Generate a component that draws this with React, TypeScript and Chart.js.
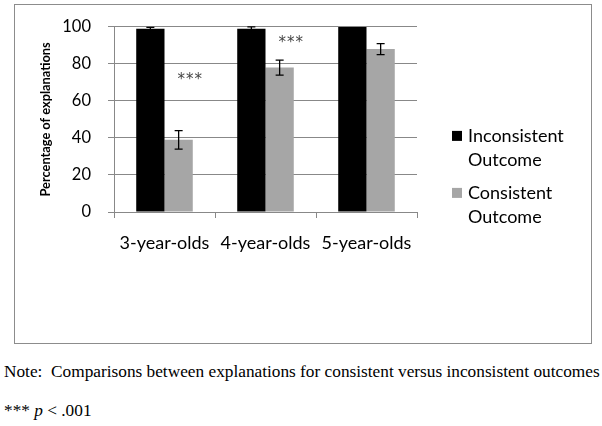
import React, { useEffect, useRef } from "react";
import { Chart, registerables } from "chart.js";

Chart.register(...registerables);

const categories = ["3-year-olds", "4-year-olds", "5-year-olds"];
const seriesLabels = ["Inconsistent Outcome", "Consistent Outcome"];
const inconsistentValues = [99, 99, 100];
const consistentValues = [39, 78, 88];
const inconsistentErrors = [0.7, 1, 0];
const consistentErrors = [5, 4, 3];
const sigMarks = ["***", "***", ""];
const sigLevels = [73, 93, 0];
const yTickValues = [0, 20, 40, 60, 80, 100];

const FONT = "Lato, 'Open Sans', sans-serif";

const errorBarPlugin = {
  id: "errorBars",
  afterDatasetsDraw(chart: any) {
    const ctx = chart.ctx;
    const y = chart.scales.y;
    [inconsistentErrors, consistentErrors].forEach((errs, di) => {
      const meta = chart.getDatasetMeta(di);
      const vals = chart.data.datasets[di].data as number[];
      meta.data.forEach((bar: any, i: number) => {
        const e = errs[i];
        if (!e) return;
        const v = vals[i];
        const top = y.getPixelForValue(v + e);
        const bot = y.getPixelForValue(v - e);
        ctx.save();
        ctx.strokeStyle = "#000";
        ctx.lineWidth = 1.3;
        ctx.beginPath();
        ctx.moveTo(bar.x, top);
        ctx.lineTo(bar.x, bot);
        ctx.moveTo(bar.x - 4, top);
        ctx.lineTo(bar.x + 4, top);
        ctx.moveTo(bar.x - 4, bot);
        ctx.lineTo(bar.x + 4, bot);
        ctx.stroke();
        ctx.restore();
      });
    });
    // significance marks
    const meta = chart.getDatasetMeta(1);
    ctx.save();
    ctx.fillStyle = "#444";
    ctx.font = `15px 'DejaVu Sans', sans-serif`;
    ctx.textAlign = "center";
    ctx.textBaseline = "middle";
    meta.data.forEach((bar: any, i: number) => {
      const mark = sigMarks[i];
      if (!mark) return;
      const cx = bar.x + 11;
      const cy = y.getPixelForValue(sigLevels[i]) + 3;
      const n = mark.length;
      for (let k = 0; k < n; k++) {
        ctx.fillText(mark[k], cx + (k - (n - 1) / 2) * 8.5, cy);
      }
    });
    ctx.restore();
  },
};

const legendPlugin = {
  id: "customLegend",
  afterDraw(chart: any) {
    const ctx = chart.ctx;
    const area = chart.chartArea;
    const x0 = area.right + 35;
    const starts = [area.top + 109, area.top + 166];
    ctx.save();
    ctx.font = `18px ${FONT}`;
    ctx.textBaseline = "middle";
    ctx.textAlign = "left";
    chart.data.datasets.forEach((ds: any, i: number) => {
      const words = String(ds.label).split(" ");
      const yy = starts[i];
      ctx.fillStyle = ds.backgroundColor;
      ctx.fillRect(x0, yy - 5, 10, 10);
      ctx.fillStyle = "#000";
      words.forEach((w: string, k: number) => {
        ctx.fillText(w, x0 + 16, yy + k * 24);
      });
    });
    ctx.restore();
  },
};

export default function App() {
  const ref = useRef<HTMLCanvasElement>(null);
  useEffect(() => {
    if (!ref.current) return;
    const chart = new Chart(ref.current, {
      type: "bar",
      data: {
        labels: categories,
        datasets: [
          {
            label: seriesLabels[0],
            data: inconsistentValues,
            backgroundColor: "#000000",
            categoryPercentage: 0.56,
            barPercentage: 1,
          },
          {
            label: seriesLabels[1],
            data: consistentValues,
            backgroundColor: "#a6a6a6",
            categoryPercentage: 0.56,
            barPercentage: 1,
          },
        ],
      },
      options: {
        animation: false,
        responsive: false,
        maintainAspectRatio: false,
        layout: { padding: { left: 0, right: 185, top: 25, bottom: 0 } },
        plugins: { legend: { display: false }, tooltip: { enabled: false } },
        scales: {
          x: {
            grid: {
              offset: true,
              drawOnChartArea: false,
              drawTicks: true,
              tickLength: 6,
              color: "#888",
            },
            border: { display: true, color: "#888" },
            ticks: { color: "#000", font: { family: FONT, size: 18 }, padding: 14 },
            afterFit: (s: any) => {
              s.height = 138;
            },
          },
          y: {
            min: 0,
            max: 100,
            afterBuildTicks: (s: any) => {
              s.ticks = yTickValues.map((v) => ({ value: v }));
            },
            grid: { color: "#888", drawTicks: true, tickLength: 6 },
            border: { display: true, color: "#888" },
            ticks: { color: "#000", font: { family: FONT, size: 16.5 }, padding: 17 },
            title: {
              display: true,
              text: "Percentage of explanations",
              color: "#000",
              font: { family: FONT, size: 12.8, weight: "bold" },
              padding: { top: 38, bottom: 0 },
            },
            afterFit: (s: any) => {
              s.width = 114;
            },
          },
        },
      },
      plugins: [errorBarPlugin, legendPlugin],
    });
    return () => chart.destroy();
  }, []);

  const noteStyle: React.CSSProperties = {
    position: "absolute",
    left: 4,
    fontFamily: "'Liberation Serif', 'Times New Roman', serif",
    fontSize: 17.3,
    color: "#000",
    whiteSpace: "nowrap",
    lineHeight: "20px",
  };

  return (
    <div style={{ position: "absolute", left: 0, top: 0, width: 602, height: 426, background: "#fff" }}>
      <div
        style={{
          position: "absolute",
          left: 14,
          top: 4,
          width: 576,
          height: 338,
          border: "1px solid #8c8c8c",
        }}
      />
      <canvas ref={ref} width={602} height={350} style={{ position: "absolute", left: 0, top: 0 }} />
      <div style={{ ...noteStyle, top: 362 }}>
        Note:&nbsp; Comparisons between explanations for consistent versus inconsistent outcomes
      </div>
      <div style={{ ...noteStyle, top: 401 }}>
        *** <i>p</i> &lt; .001
      </div>
    </div>
  );
}
